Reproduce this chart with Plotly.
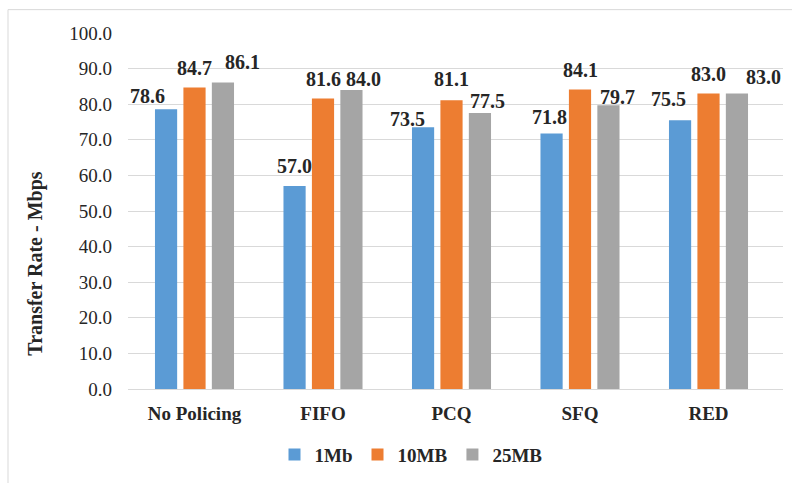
import plotly.graph_objects as go

categories = ["No Policing", "FIFO", "PCQ", "SFQ", "RED"]
series_names = ["1Mb", "10MB", "25MB"]
rate_1mb = [78.6, 57.0, 73.5, 71.8, 75.5]
rate_10mb = [84.7, 81.6, 81.1, 84.1, 83.0]
rate_25mb = [86.1, 84.0, 77.5, 79.7, 83.0]
colors = ["#5B9BD5", "#ED7D31", "#A5A5A5"]
y_ticks = [0, 10, 20, 30, 40, 50, 60, 70, 80, 90, 100]

# hand-placed value label nudges (dx, dy in px relative to the bar top centre)
label_nudge = [
    [(-18, 13), (0, 20), (-15, 8), (-2, 16), (-11, 21)],
    [(0, 19), (0, 20), (0, 21), (0, 20), (0, 20)],
    [(19, 20), (11, 11), (7, 12), (8, 8), (26, 17)],
]

W, H = 792, 483
L, R, T, B = 128, 9, 33, 92
FONT = "Liberation Serif"
INK = "#262626"
BAR_PITCH = 29  # px between neighbouring bar centres in a group

series = [rate_1mb, rate_10mb, rate_25mb]

fig = go.Figure()
for name, vals, col in zip(series_names, series, colors):
    fig.add_trace(go.Bar(
        x=categories, y=vals, name=f"<b>{name}</b>", marker_color=col,
        marker_line_width=0,
    ))

# chart frame in pixels converted to paper coordinates
pw, ph = W - L - R, H - T - B
def px(x):
    return (x - L) / pw
def py(y):
    return (H - B - y) / ph

annotations = []
for s, vals in enumerate(series):
    for c, (cat, v) in enumerate(zip(categories, vals)):
        dx, dy = label_nudge[s][c]
        annotations.append(dict(
            x=cat, y=v, xref="x", yref="y", text=f"<b>{v:.1f}</b>",
            showarrow=False, xanchor="center", yanchor="middle",
            xshift=(s - 1) * BAR_PITCH + dx, yshift=dy,
            font=dict(family=FONT, size=20, color=INK),
        ))

# value axis title
annotations.append(dict(
    x=px(36), y=py(265), xref="paper", yref="paper",
    text="<b>Transfer Rate - Mbps</b>", textangle=-90, showarrow=False,
    xanchor="center", yanchor="middle",
    font=dict(family=FONT, size=20, color=INK),
))

fig.add_shape(type="rect", xref="paper", yref="paper",
              x0=px(8), x1=px(800), y0=py(490), y1=py(9.5),
              line=dict(color="#D9D9D9", width=1), layer="below")

fig.update_layout(
    width=W, height=H,
    margin=dict(l=L, r=R, t=T, b=B),
    paper_bgcolor="white", plot_bgcolor="white",
    barmode="group", bargap=0.336, bargroupgap=0.22,
    font=dict(family=FONT, color=INK),
    annotations=annotations,
    showlegend=True,
    legend=dict(orientation="h", x=px(411), xanchor="center", y=py(457), yanchor="middle",
                font=dict(family=FONT, size=19, color=INK),
                itemwidth=30, traceorder="normal"),
    xaxis=dict(showline=True, linecolor="#D9D9D9", linewidth=1, ticks="",
               tickfont=dict(family=FONT, size=19, color=INK),
               tickprefix="<b>", ticksuffix="</b>",
               ticklabelstandoff=7),
    yaxis=dict(range=[0, 100], tickvals=y_ticks, tickformat=".1f",
               showgrid=True, gridcolor="#D9D9D9", gridwidth=1,
               zeroline=False, showline=False, ticks="",
               tickfont=dict(family=FONT, size=19, color=INK),
               tickprefix="<b>", ticksuffix="</b>",
               ticklabelstandoff=15),
)

fig.write_html("out.html")
